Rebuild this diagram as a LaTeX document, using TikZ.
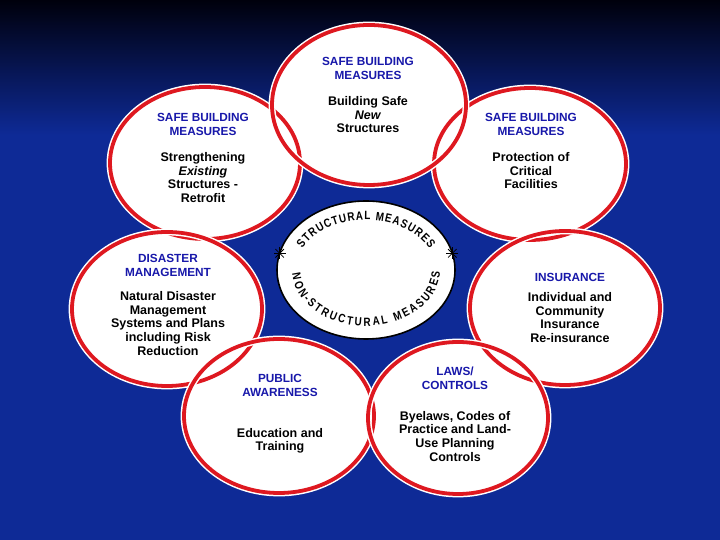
\documentclass[tikz,border=0pt]{standalone}
\usepackage{fontspec}
\setmainfont{Liberation Sans}
\newfontfamily\hubfamily[FakeStretch=0.82]{Liberation Sans}
\usetikzlibrary{shapes.geometric,positioning,decorations.text}
\definecolor{bgtop}{RGB}{0,0,12}
\definecolor{bgblue}{RGB}{14,42,150}
\definecolor{petalred}{RGB}{222,24,32}
\definecolor{headblue}{RGB}{24,24,170}
\newcommand\hubfont{\hubfamily\bfseries\fontsize{12}{13}\selectfont}

\begin{document}
\begin{tikzpicture}[x=1pt, y=1pt,
    petal/.style={ellipse, fill=white, inner sep=0pt},
    rim/.style={ellipse, draw=petalred, line width=3.8pt, inner sep=0pt,
      preaction={draw=white, line width=6.8pt}},
    hub/.style={ellipse, draw=black, line width=1.6pt, fill=white, inner sep=0pt,
      minimum width=178pt, minimum height=138pt},
    head/.style={align=center, inner sep=0pt, text=headblue,
      font=\bfseries\fontsize{11.8}{14}\selectfont},
    body/.style={align=center, inner sep=0pt,
      font=\bfseries\fontsize{12.5}{13.6}\selectfont},
    spark/.style={draw=black, line width=0.8pt}]
  \useasboundingbox (0,0) rectangle (720,540);
  % background
  \fill[bgblue] (0,0) rectangle (720,410);
  \shade[top color=bgtop, bottom color=bgblue] (0,405) rectangle (720,540);

  \def\petals{retrofit/205/377/190pt/152pt, critical/530/376/192pt/152pt,
    dismgmt/167/231/190pt/154pt, insure/565/232/190pt/154pt,
    aware/279/124/190pt/154pt, laws/458/122/180pt/152pt,
    newbuild/369/435/194pt/160pt}
  % white petals first, red rims after so the crossings show
  \foreach \n/\x/\y/\w/\h in \petals
    \node[petal, minimum width=\w, minimum height=\h] (\n) at (\x,\y) {};
  \foreach \n/\x/\y/\w/\h in \petals
    \node[rim, minimum width=\w, minimum height=\h] (\n-rim) at (\x,\y) {};

  % centre
  \node[hub] (mid) at (366,270) {};
  \path[decorate, decoration={text along path, text align=fit to path,
      text={|\hubfont|STRUCTURAL MEASURES}}]
    ([shift={(155:70pt and 50pt)}]mid.center)
    arc[start angle=155, end angle=25, x radius=70pt, y radius=50pt];
  \path[decorate, decoration={text along path, text align=fit to path,
      text={|\hubfont|NON-STRUCTURAL MEASURES}}]
    ([shift={(184:74pt and 56pt)}]mid.center)
    arc[start angle=184, end angle=358, x radius=74pt, y radius=56pt];
  \coordinate (starL) at ([shift={(166:89pt and 69pt)}]mid.center);
  \coordinate (starR) at ([shift={(14:89pt and 69pt)}]mid.center);
  \foreach \s in {starL,starR}
    \foreach \a in {0,45,90,135}
      \draw[spark] (\s) ++(\a:6pt) -- ++(\a:-12pt);

  % texts
  \node[head] (newbuildH) at (368,472) {SAFE BUILDING\\MEASURES};
  \node[body, below=17pt of newbuildH] (newbuildB) {Building Safe\\\textit{New}\\Structures};
  \node[head] (retrofitH) at (203,416) {SAFE BUILDING\\MEASURES};
  \node[body, below=17pt of retrofitH] (retrofitB) {Strengthening\\\textit{Existing}\\Structures -\\Retrofit};
  \node[head] (criticalH) at (531,416) {SAFE BUILDING\\MEASURES};
  \node[body, below=17pt of criticalH] (criticalB) {Protection of\\Critical\\Facilities};
  \node[head] (dismgmtH) at (168,275) {DISASTER\\MANAGEMENT};
  \node[body, below=15pt of dismgmtH] (dismgmtB) {Natural Disaster\\Management\\Systems and Plans\\including Risk\\Reduction};
  \node[head] (insureH) at (570,263) {INSURANCE};
  \node[body, below=11pt of insureH] (insureB) {Individual and\\Community\\Insurance\\Re-insurance};
  \node[head] (awareH) at (280,154.5) {PUBLIC\\AWARENESS};
  \node[body, below=31pt of awareH] (awareB) {Education and\\Training};
  \node[head] (lawsH) at (455,161.5) {LAWS/\\CONTROLS};
  \node[body, below=21pt of lawsH] (lawsB) {Byelaws, Codes of\\Practice and Land-\\Use Planning\\Controls};
\end{tikzpicture}
\end{document}
